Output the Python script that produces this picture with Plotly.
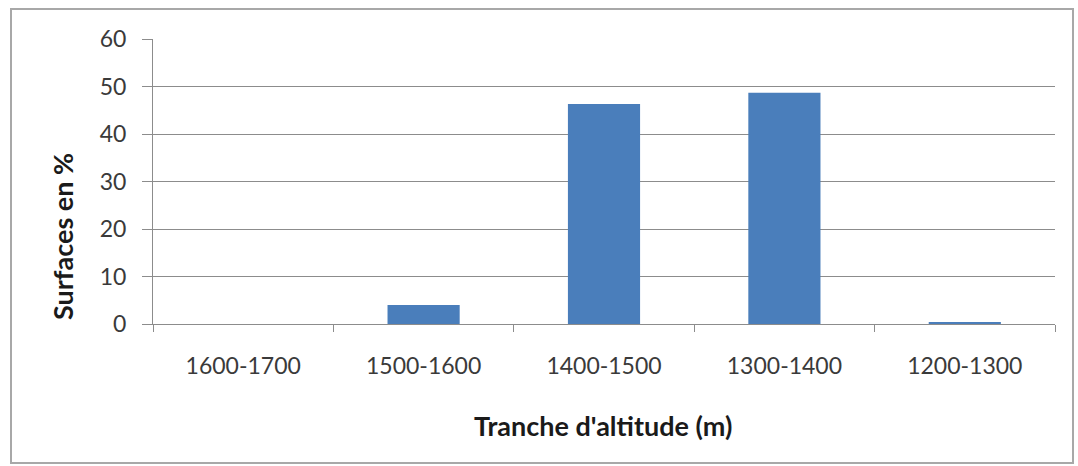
import plotly.graph_objects as go

# Altitude bands and share of surface area (%)
categories = ["1600-1700", "1500-1600", "1400-1500", "1300-1400", "1200-1300"]
surfaces = [0.0, 4.0, 46.3, 48.7, 0.4]
y_ticks = [0, 10, 20, 30, 40, 50, 60]

x_title = "Tranche d'altitude (m)"
y_title = "Surfaces en %"

W, H = 1078, 466
L, R, T, B = 153, 23, 39, 142
pw, ph = W - L - R, H - T - B


def px(x):
    return (x - L) / pw


def py(y):
    return (H - B - y) / ph


FONT = "Lato"
GRID = "#8c8c8c"
TICK_FONT = dict(family=FONT, size=23, color="#3a3a3a")
TITLE_FONT = dict(family=FONT, size=27, color="#1a1a1a", weight="bold")

fig = go.Figure(
    go.Bar(
        x=categories,
        y=surfaces,
        marker=dict(color="#4a7ebb", line=dict(width=0)),
        hoverinfo="x+y",
    )
)

fig.update_layout(
    width=W,
    height=H,
    margin=dict(l=L, r=R, t=T, b=B),
    paper_bgcolor="white",
    plot_bgcolor="white",
    bargap=0.6,
    showlegend=False,
    font=TICK_FONT,
    xaxis=dict(
        type="category",
        showline=True,
        linecolor=GRID,
        linewidth=1,
        ticks="outside",
        tickson="boundaries",
        ticklen=7,
        tickcolor=GRID,
        showgrid=False,
        ticklabelstandoff=21,
        tickfont=TICK_FONT,
    ),
    yaxis=dict(
        range=[0, 60],
        tickvals=y_ticks,
        showline=True,
        linecolor=GRID,
        linewidth=1,
        ticks="outside",
        ticklen=10,
        tickcolor=GRID,
        showgrid=True,
        gridcolor=GRID,
        gridwidth=1,
        zeroline=False,
        ticklabelstandoff=11,
        tickfont=TICK_FONT,
    ),
    shapes=[
        dict(
            type="rect",
            xref="paper",
            yref="paper",
            x0=px(11),
            x1=px(1073),
            y0=py(463),
            y1=py(9),
            line=dict(color="#a8a8a8", width=2),
            fillcolor="rgba(0,0,0,0)",
            layer="below",
        )
    ],
    annotations=[
        dict(
            text=x_title,
            xref="paper",
            yref="paper",
            x=px(603),
            y=py(425),
            xanchor="center",
            yanchor="middle",
            showarrow=False,
            font=TITLE_FONT,
        ),
        dict(
            text=y_title,
            xref="paper",
            yref="paper",
            x=px(63),
            y=py(237),
            xanchor="center",
            yanchor="middle",
            textangle=-90,
            showarrow=False,
            font=TITLE_FONT,
        ),
    ],
)

fig.write_html("out.html")
